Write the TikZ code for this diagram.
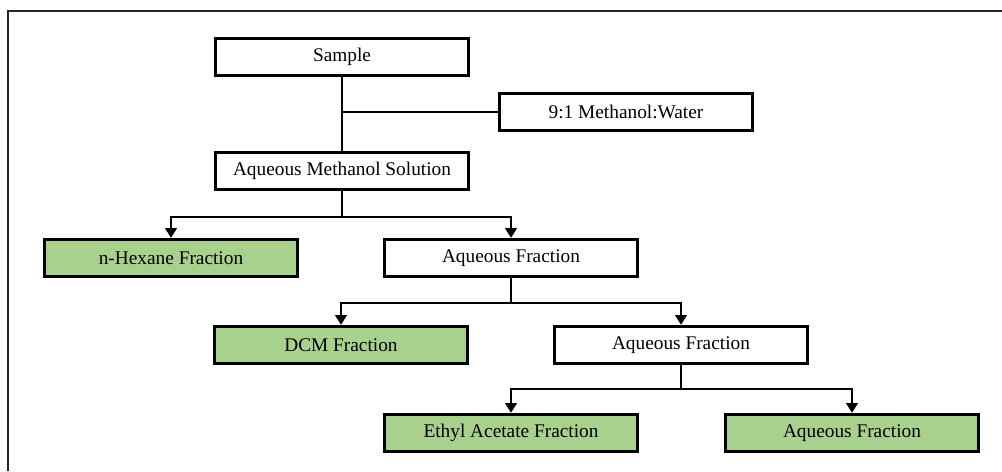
\documentclass[tikz,border=0pt]{standalone}
\usepackage{fontspec}
\setmainfont{Liberation Serif}
\usetikzlibrary{arrows.meta}
\definecolor{fracgreen}{HTML}{A9D18E}
\begin{document}
\begin{tikzpicture}
		[x=0.02cm, y=-0.02cm,
		box/.style={draw, line width=1.9pt, minimum width=5.06cm,
			minimum height=0.74cm, inner sep=0pt,
			font=\fontsize{11}{13}\selectfont},
		frac/.style={box, fill=fracgreen},
		link/.style={line width=1.6pt},
		arr/.style={link, -{Triangle[length=5.5pt,width=6.5pt]}}
	]
		\useasboundingbox (0,0) rectangle (1002,471);
		\draw[line width=1.1pt, black!85] (1002,11) -- (8,11) -- (8,471);
		% boxes
		\node[box] (sample) at (342,57) {Sample};
		\node[box] (mw) at (626,112) {9:1 Methanol:Water};
		\node[box] (ams) at (342,171) {Aqueous Methanol Solution};
		\node[frac] (hex) at (171,258) {n-Hexane Fraction};
		\node[box] (aq1) at (511,258) {Aqueous Fraction};
		\node[frac] (dcm) at (341,345) {DCM Fraction};
		\node[box] (aq2) at (681,345) {Aqueous Fraction};
		\node[frac] (ethyl) at (511,433) {Ethyl Acetate Fraction};
		\node[frac] (aq3) at (852,433) {Aqueous Fraction};
		% branch points
		\coordinate (b1) at (342,217);
		\coordinate (b2) at (511,303);
		\coordinate (b3) at (681,389);
		% connectors
		\draw[link] (sample.south) -- (ams.north);
		\draw[link] (sample.south |- mw.west) -- (mw.west);
		\draw[link] (ams.south) -- (b1);
		\draw[arr] (b1) -| (hex.north);
		\draw[arr] (b1) -| (aq1.north);
		\draw[link] (aq1.south) -- (b2);
		\draw[arr] (b2) -| (dcm.north);
		\draw[arr] (b2) -| (aq2.north);
		\draw[link] (aq2.south) -- (b3);
		\draw[arr] (b3) -| (ethyl.north);
		\draw[arr] (b3) -| (aq3.north);
	\end{tikzpicture}
\end{document}
